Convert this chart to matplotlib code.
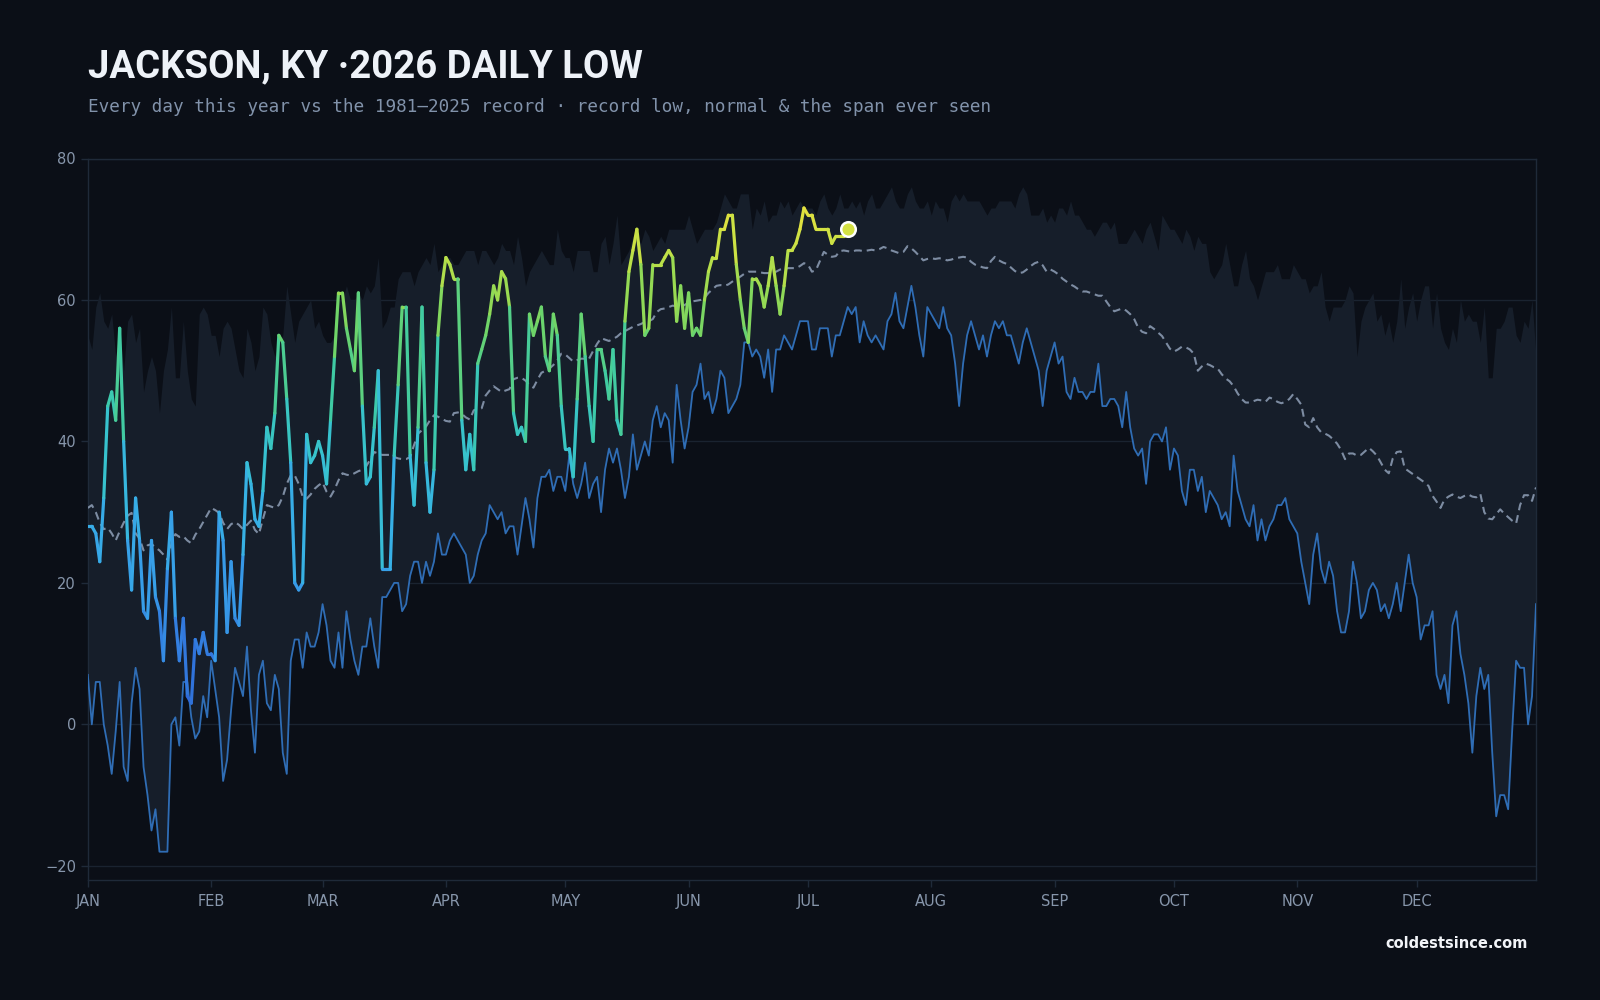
import matplotlib

matplotlib.use("Agg")
import matplotlib.pyplot as plt
import numpy as np
from matplotlib.collections import LineCollection
from matplotlib.colors import LinearSegmentedColormap, Normalize

MONTHS = ["JAN", "FEB", "MAR", "APR", "MAY", "JUN", "JUL", "AUG", "SEP", "OCT", "NOV", "DEC"]
MONTH_START = [0, 31, 59, 90, 120, 151, 181, 212, 243, 273, 304, 334]
Y_TICKS = [-20, 0, 20, 40, 60, 80]

# record low of the daily low, 1981-2025 (deg F), Jan 1 .. Dec 31
RECORD_LOW = [
    7, 0, 6, 6, 0, -3, -7, -1, 6, -6,
    -8, 3, 8, 5, -6, -10, -15, -12, -18, -18,
    -18, 0, 1, -3, 6, 6, 1, -2, -1, 4,
    1, 9, 5, 1, -8, -5, 2, 8, 6, 4,
    11, 2, -4, 7, 9, 3, 2, 7, 5, -4,
    -7, 9, 12, 12, 8, 13, 11, 11, 13, 17,
    14, 9, 8, 13, 8, 16, 12, 9, 7, 11,
    11, 15, 11, 8, 18, 18, 19, 20, 20, 16,
    17, 21, 23, 23, 20, 23, 21, 23, 27, 24,
    24, 26, 27, 26, 25, 24, 20, 21, 24, 26,
    27, 31, 30, 29, 30, 27, 28, 28, 24, 28,
    32, 29, 25, 32, 35, 35, 36, 33, 35, 35,
    33, 38, 34, 32, 34, 37, 32, 34, 35, 30,
    36, 39, 37, 39, 36, 32, 35, 41, 36, 38,
    40, 38, 43, 45, 42, 44, 43, 37, 48, 43,
    39, 42, 47, 48, 51, 46, 47, 44, 46, 50,
    49, 44, 45, 46, 48, 54, 54, 52, 53, 52,
    49, 53, 47, 53, 53, 55, 54, 53, 55, 57,
    57, 57, 53, 53, 56, 56, 56, 52, 55, 55,
    57, 59, 58, 59, 54, 57, 55, 54, 55, 54,
    53, 57, 58, 61, 57, 56, 59, 62, 59, 55,
    52, 59, 58, 57, 56, 59, 56, 55, 51, 45,
    51, 55, 57, 55, 53, 55, 52, 55, 57, 56,
    57, 55, 55, 53, 51, 54, 56, 54, 52, 50,
    45, 50, 52, 54, 51, 52, 47, 46, 49, 47,
    47, 46, 47, 47, 51, 45, 45, 46, 46, 45,
    42, 47, 42, 39, 38, 39, 34, 40, 41, 41,
    40, 42, 36, 39, 38, 33, 31, 36, 36, 33,
    35, 30, 33, 32, 31, 29, 30, 28, 38, 33,
    31, 29, 28, 31, 26, 29, 26, 28, 29, 31,
    31, 32, 29, 28, 27, 23, 20, 17, 24, 27,
    22, 20, 23, 21, 16, 13, 13, 16, 23, 20,
    15, 16, 19, 20, 19, 16, 17, 15, 17, 20,
    16, 20, 24, 20, 18, 12, 14, 14, 16, 7,
    5, 7, 3, 14, 16, 10, 7, 3, -4, 4,
    8, 5, 7, -4, -13, -10, -10, -12, -1, 9,
    8, 8, 0, 4, 17,
]

# highest daily low on record (top of the shaded span)
RECORD_HIGH = [
    55, 53, 59, 61, 57, 56, 58, 52, 56, 50,
    57, 58, 54, 56, 47, 50, 52, 50, 44, 50,
    53, 59, 49, 49, 57, 50, 46, 45, 58, 59,
    58, 55, 55, 52, 56, 57, 56, 53, 50, 49,
    56, 54, 50, 52, 59, 58, 54, 52, 54, 55,
    62, 58, 54, 57, 58, 59, 60, 56, 57, 55,
    54, 54, 55, 60, 60, 62, 60, 60, 61, 60,
    62, 61, 62, 66, 56, 57, 59, 59, 63, 64,
    64, 64, 62, 64, 65, 66, 65, 68, 64, 65,
    66, 66, 65, 65, 66, 67, 67, 67, 65, 67,
    67, 66, 65, 66, 68, 67, 67, 65, 69, 66,
    62, 64, 65, 66, 67, 66, 65, 65, 70, 67,
    66, 66, 64, 67, 67, 67, 67, 64, 64, 68,
    69, 65, 68, 72, 65, 66, 67, 69, 69, 68,
    70, 69, 67, 68, 69, 68, 70, 70, 70, 70,
    70, 72, 70, 68, 69, 70, 70, 70, 71, 73,
    75, 74, 73, 73, 75, 75, 75, 70, 73, 72,
    74, 71, 72, 72, 74, 73, 74, 72, 73, 74,
    73, 73, 73, 72, 74, 75, 73, 72, 73, 75,
    73, 73, 74, 73, 74, 72, 74, 75, 73, 73,
    74, 75, 76, 74, 73, 73, 75, 76, 74, 73,
    73, 74, 72, 74, 73, 73, 71, 74, 75, 74,
    75, 74, 74, 74, 74, 73, 72, 73, 73, 74,
    74, 74, 74, 73, 75, 76, 75, 72, 72, 72,
    73, 71, 72, 71, 73, 73, 72, 74, 72, 72,
    71, 70, 70, 69, 70, 71, 71, 70, 71, 68,
    68, 68, 69, 70, 69, 68, 70, 71, 69, 67,
    72, 71, 70, 70, 69, 68, 70, 69, 67, 69,
    68, 68, 64, 63, 64, 65, 68, 65, 62, 62,
    65, 67, 63, 62, 60, 62, 64, 64, 64, 65,
    63, 63, 63, 65, 64, 63, 63, 61, 62, 62,
    64, 59, 57, 59, 59, 59, 60, 62, 61, 52,
    57, 59, 60, 61, 57, 58, 55, 57, 54, 57,
    63, 56, 59, 61, 57, 60, 62, 62, 56, 61,
    56, 54, 53, 56, 54, 60, 57, 58, 57, 57,
    54, 59, 49, 49, 56, 56, 57, 59, 59, 55,
    54, 57, 56, 60, 52,
]

# 1981-2025 normal daily low
NORMAL = [
    30.6, 31.0, 30.0, 28.5, 27.6, 27.8, 27.0, 26.0, 27.3, 28.5,
    29.5, 29.9, 27.0, 26.3, 24.6, 25.3, 25.5, 25.0, 24.6, 24.0,
    23.3, 25.5, 26.9, 26.5, 26.6, 26.0, 25.6, 26.8, 27.6, 28.6,
    29.6, 30.6, 30.3, 29.9, 28.5, 27.6, 28.3, 28.6, 28.2, 27.6,
    28.2, 28.8, 27.5, 26.9, 29.0, 31.0, 30.8, 30.6, 31.0, 32.2,
    34.0, 35.2, 35.2, 34.0, 32.2, 31.9, 32.5, 33.3, 33.8, 34.2,
    32.9, 32.2, 33.2, 34.5, 35.5, 35.3, 35.2, 35.5, 35.8, 36.0,
    36.5, 37.5, 38.5, 38.3, 38.1, 38.1, 38.1, 37.8, 37.6, 37.5,
    37.5, 37.8, 39.5, 41.1, 41.6, 42.1, 43.0, 43.7, 43.5, 43.2,
    42.9, 42.8, 44.0, 44.1, 43.9, 43.4, 43.1, 44.4, 44.6, 44.7,
    46.5, 47.2, 47.8, 47.4, 47.0, 47.2, 47.4, 48.8, 49.0, 49.0,
    48.6, 48.0, 47.6, 48.7, 49.7, 50.0, 50.3, 50.8, 51.5, 52.4,
    52.3, 51.8, 51.3, 51.5, 51.7, 51.7, 51.7, 52.8, 53.8, 54.6,
    54.4, 54.2, 54.5, 54.8, 55.3, 55.6, 55.9, 56.2, 56.4, 56.6,
    56.9, 57.0, 57.3, 58.3, 58.7, 58.8, 59.0, 59.2, 59.1, 59.0,
    59.3, 59.6, 59.8, 59.9, 60.0, 60.3, 61.0, 61.5, 62.0, 62.1,
    62.0, 62.2, 62.6, 63.0, 63.3, 63.7, 64.0, 64.0, 64.0, 63.9,
    63.8, 63.8, 63.8, 64.0, 64.3, 64.4, 64.5, 64.5, 64.5, 64.8,
    65.2, 65.0, 64.0, 64.2, 65.5, 66.8, 66.4, 66.1, 66.2, 66.9,
    67.0, 66.9, 66.8, 67.0, 67.0, 66.9, 67.0, 67.1, 67.0, 67.2,
    67.5, 67.3, 67.0, 66.8, 66.6, 66.8, 67.6, 67.3, 66.8, 66.2,
    65.6, 65.8, 65.9, 65.8, 65.9, 65.8, 65.6, 65.7, 65.9, 66.0,
    66.1, 66.0, 65.4, 65.0, 64.8, 64.6, 64.5, 65.5, 66.1, 65.6,
    65.3, 65.1, 64.6, 64.1, 63.8, 63.9, 64.3, 64.8, 65.2, 65.4,
    64.9, 64.0, 64.3, 64.0, 63.6, 63.0, 62.6, 62.2, 61.9, 61.5,
    61.2, 61.2, 61.0, 60.8, 60.6, 60.6, 59.8, 59.0, 58.4, 58.6,
    58.8, 58.5, 58.0, 57.3, 56.1, 55.5, 55.3, 56.3, 55.9, 55.4,
    54.9, 54.0, 53.1, 52.7, 53.0, 53.4, 53.3, 53.0, 52.4, 50.0,
    50.6, 51.0, 50.8, 50.5, 50.3, 49.5, 48.9, 48.5, 47.8, 46.8,
    46.0, 45.5, 45.5, 45.7, 45.9, 45.8, 45.6, 46.2, 46.0, 45.6,
    45.4, 45.6, 46.0, 46.7, 46.0, 45.2, 42.4, 42.0, 43.3, 42.0,
    41.3, 41.1, 40.8, 40.3, 39.7, 38.8, 37.5, 38.3, 38.3, 38.0,
    38.1, 38.6, 39.1, 38.6, 38.0, 37.0, 36.0, 35.5, 37.6, 38.5,
    38.6, 36.2, 35.8, 35.4, 35.0, 34.6, 34.2, 33.7, 32.3, 31.5,
    30.6, 31.8, 32.2, 32.5, 32.2, 32.0, 32.3, 32.5, 32.2, 32.1,
    32.6, 30.0, 29.1, 29.0, 29.7, 30.4, 29.8, 29.3, 28.8, 28.4,
    31.0, 32.4, 32.4, 31.6, 33.5,
]

# 2026 observed daily low, Jan 1 .. Jul 11
LOW_2026 = [
    28, 28, 27, 23, 32, 45, 47, 43, 56, 40,
    26, 19, 32, 26, 16, 15, 26, 18, 16, 9,
    22, 30, 15, 9, 15, 4, 3, 12, 10, 13,
    10, 10, 9, 30, 26, 13, 23, 15, 14, 24,
    37, 34, 29, 28, 33, 42, 39, 44, 55, 54,
    46, 37, 20, 19, 20, 41, 37, 38, 40, 38,
    34, 43, 52, 61, 61, 56, 53, 50, 61, 45,
    34, 35, 42, 50, 22, 22, 22, 38, 48, 59,
    59, 38, 31, 42, 59, 37, 30, 36, 55, 62,
    66, 65, 63, 63, 43, 36, 41, 36, 51, 53,
    55, 58, 62, 60, 64, 63, 59, 44, 41, 42,
    40, 58, 55, 57, 59, 52, 50, 58, 55, 45,
    39, 39, 35, 46, 58, 52, 45, 40, 53, 53,
    50, 46, 53, 43, 41, 57, 64, 67, 70, 65,
    55, 56, 65, 65, 65, 66, 67, 66, 57, 62,
    56, 61, 55, 56, 55, 60, 64, 66, 66, 70,
    70, 72, 72, 65, 60, 56, 54, 63, 63, 62,
    59, 62, 66, 62, 58, 62, 67, 67, 68, 70,
    73, 72, 72, 70, 70, 70, 70, 68, 69, 69,
    69, 70,
]

BG = "#0b0f17"
BAND = "#161e2a"
GRID = "#1a2330"
SPINE = "#1f2a39"
TICK_TEXT = "#8796ab"
LOW_LINE = "#2f6db5"
NORMAL_LINE = "#7d8ca2"

TEMP_MAX = 75.0
TEMP_STOPS = [0, 10, 20, 30, 38, 47, 56, 61, 66, 73, 75]
TEMP_COLORS = ["#2c62d4", "#3279de", "#379ce8", "#37b0e6", "#37c2d0", "#3ccaa8",
               "#6cd46a", "#98da52", "#bde048", "#e6e23e", "#ece43e"]
TEMP_CMAP = LinearSegmentedColormap.from_list(
    "daily_low", [(v / TEMP_MAX, c) for v, c in zip(TEMP_STOPS, TEMP_COLORS)])
TEMP_NORM = Normalize(vmin=0, vmax=TEMP_MAX)


def colored_line(x, y):
    # one colour per daily segment, from the mean of its two ends
    pts = np.column_stack([x, y]).astype(float)
    segs = np.stack([pts[:-1], pts[1:]], axis=1)
    lc = LineCollection(segs, cmap=TEMP_CMAP, norm=TEMP_NORM, linewidths=2.3,
                        capstyle="round", joinstyle="round", zorder=5)
    lc.set_array((pts[:-1, 1] + pts[1:, 1]) / 2)
    return lc


def main() -> None:
    fig = plt.figure(figsize=(16, 10), dpi=100, facecolor=BG)
    ax = fig.add_axes([0.0549, 0.12, 0.9051, 0.7215])
    ax.set_facecolor(BG)

    days = np.arange(len(RECORD_LOW))
    ax.fill_between(days, RECORD_LOW, RECORD_HIGH, color=BAND, lw=0, zorder=1)
    ax.plot(days, NORMAL, color=NORMAL_LINE, lw=1.5, ls=(0, (3.8, 2.4)), zorder=3)
    ax.plot(days, RECORD_LOW, color=LOW_LINE, lw=1.3, zorder=4)

    this_year = np.arange(len(LOW_2026))
    ax.add_collection(colored_line(this_year, LOW_2026))
    ax.scatter([this_year[-1]], [LOW_2026[-1]], s=110,
               color=TEMP_CMAP(TEMP_NORM(LOW_2026[-1])),
               edgecolor="white", linewidth=1.8, zorder=6)

    ax.set_xlim(0, len(RECORD_LOW) - 1)
    ax.set_ylim(-22, 80)
    ax.set_yticks(Y_TICKS)
    ax.set_xticks(MONTH_START)
    ax.set_xticklabels(MONTHS)
    ax.set_axisbelow(True)
    ax.grid(axis="y", color=GRID, lw=1.0)
    ax.tick_params(axis="both", colors=SPINE, labelcolor=TICK_TEXT,
                   labelsize=10.5, length=5, width=1)
    ax.tick_params(axis="x", pad=5)
    for spine in ax.spines.values():
        spine.set_color(SPINE)
        spine.set_linewidth(1.0)

    fig.text(0.055, 0.9225, "JACKSON, KY ·2026 DAILY LOW", color="#eef2f8",
             fontsize=27.5, fontweight="bold", family="Roboto", va="baseline")
    fig.text(0.055, 0.888,
             "Every day this year vs the 1981–2025 record · record low, normal & the span ever seen",
             color="#8192aa", fontsize=12.7, family="DejaVu Sans Mono", va="baseline")
    fig.text(0.955, 0.056, "coldestsince.com", color="#f2f4f8", fontsize=10.5,
             fontweight="bold", family="DejaVu Sans", ha="right", va="center")

    fig.savefig("out.png", dpi=100, facecolor=BG)
    plt.close(fig)


if __name__ == "__main__":
    main()
